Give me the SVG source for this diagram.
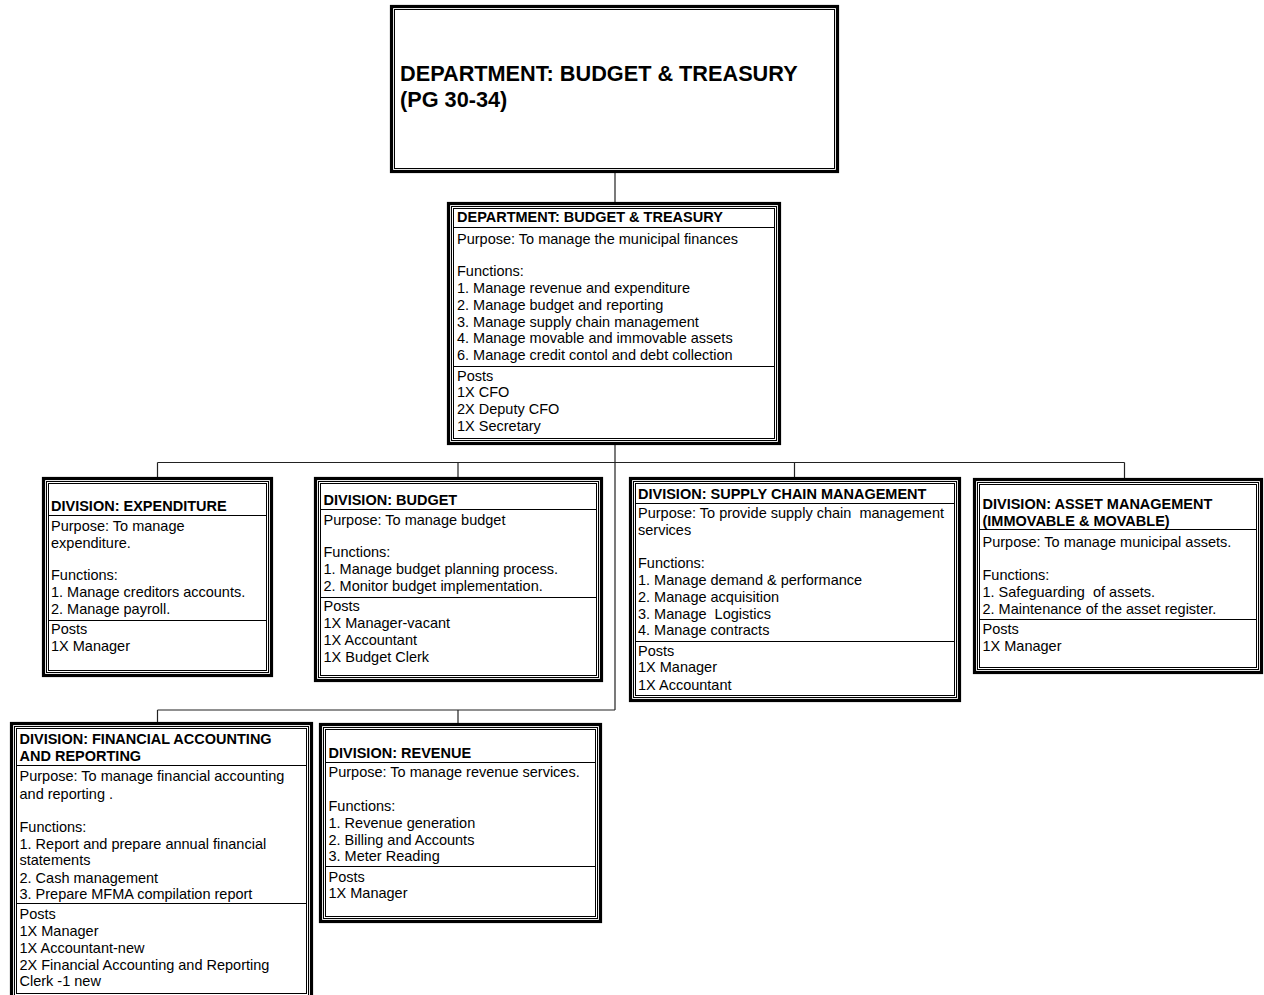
<svg xmlns="http://www.w3.org/2000/svg" width="1264" height="995" viewBox="0 0 1264 995">
<style>
.o{fill:#fff;stroke:#000;stroke-width:3.2}
.i{fill:none;stroke:#000;stroke-width:1}
.s{stroke:#000;stroke-width:1}
.c{fill:none;stroke:#222;stroke-width:1.2}
text{font-family:"Liberation Sans",Arial,Helvetica,sans-serif;font-size:14.5px;fill:#000}
.b{font-weight:bold}
.big{font-size:21.7px;font-weight:bold}
.p{white-space:pre}
</style>
<rect width="1264" height="995" fill="#fff"/>
<g id="connectors">
<path class="c" d="M615 171.5V203.5M615 443.5V710M157.5 462.5H1124.5M157.5 462.5V478.5M458 462.5V478.5M794.5 462.5V478.5M1124.5 462.5V479.5M157.5 710H615M157.5 710V723.5M458 710V724.5"/>
</g>
<g id="top">
<rect class="o" x="391.5" y="6.5" width="446" height="165"/>
<rect class="i" x="394.5" y="9.5" width="440" height="159"/>
<text class="big" x="400" y="81">DEPARTMENT: BUDGET &amp; TREASURY</text>
<text class="big" x="400" y="107">(PG 30-34)</text>
</g>
<g id="dept">
<rect class="o" x="448.5" y="203.5" width="331" height="240"/>
<rect class="i" x="451.5" y="206.5" width="325" height="234"/>
<rect class="i" x="453.5" y="208.5" width="321" height="230"/>
<path class="s" d="M453.5 227.5H774.5M453.5 366.5H774.5"/>
<text class="b" x="457" y="222">DEPARTMENT: BUDGET &amp; TREASURY</text>
<text x="457" y="243.5">Purpose: To manage the municipal finances</text>
<text x="457" y="276">Functions:</text>
<text x="457" y="292.5">1. Manage revenue and expenditure</text>
<text x="457" y="309.5">2. Manage budget and reporting</text>
<text x="457" y="326.5">3. Manage supply chain management</text>
<text x="457" y="343">4. Manage movable and immovable assets</text>
<text x="457" y="360">6. Manage credit contol and debt collection</text>
<text x="457" y="380.5">Posts</text>
<text x="457" y="397">1X CFO</text>
<text x="457" y="414">2X Deputy CFO</text>
<text x="457" y="430.5">1X Secretary</text>
</g>
<g id="expenditure">
<rect class="o" x="43.5" y="478.5" width="228" height="197"/>
<rect class="i" x="46.5" y="481.5" width="222" height="191"/>
<rect class="i" x="48.5" y="483.5" width="218" height="187"/>
<path class="s" d="M48.5 515.5H266.5M48.5 620.5H266.5"/>
<text class="b" x="51" y="511">DIVISION: EXPENDITURE</text>
<text x="51" y="531">Purpose: To manage</text>
<text x="51" y="547.5">expenditure.</text>
<text x="51" y="580">Functions:</text>
<text x="51" y="596.5">1. Manage creditors accounts.</text>
<text x="51" y="613.5">2. Manage payroll.</text>
<text x="51" y="634">Posts</text>
<text x="51" y="650.5">1X Manager</text>
</g>
<g id="budget">
<rect class="o" x="315.5" y="478.5" width="286" height="202"/>
<rect class="i" x="318.5" y="481.5" width="280" height="196"/>
<rect class="i" x="320.5" y="483.5" width="276" height="192"/>
<path class="s" d="M320.5 509.5H596.5M320.5 597.5H596.5"/>
<text class="b" x="323.5" y="504.5">DIVISION: BUDGET</text>
<text x="323.5" y="524.5">Purpose: To manage budget</text>
<text x="323.5" y="557">Functions:</text>
<text x="323.5" y="574">1. Manage budget planning process.</text>
<text x="323.5" y="590.5">2. Monitor budget implementation.</text>
<text x="323.5" y="611">Posts</text>
<text x="323.5" y="628">1X Manager-vacant</text>
<text x="323.5" y="644.5">1X Accountant</text>
<text x="323.5" y="661.5">1X Budget Clerk</text>
</g>
<g id="scm">
<rect class="o" x="630.5" y="478.5" width="329" height="222"/>
<rect class="i" x="633.5" y="481.5" width="323" height="216"/>
<rect class="i" x="635.5" y="483.5" width="319" height="212"/>
<path class="s" d="M635.5 503.5H954.5M635.5 641.5H954.5"/>
<text class="b" x="638" y="498.5">DIVISION: SUPPLY CHAIN MANAGEMENT</text>
<text class="p" x="638" y="518">Purpose: To provide supply chain  management</text>
<text x="638" y="534.5">services</text>
<text x="638" y="568">Functions:</text>
<text x="638" y="585">1. Manage demand &amp; performance</text>
<text x="638" y="601.5">2. Manage acquisition</text>
<text class="p" x="638" y="618.5">3. Manage  Logistics</text>
<text x="638" y="635">4. Manage contracts</text>
<text x="638" y="655.5">Posts</text>
<text x="638" y="672">1X Manager</text>
<text x="638" y="689.5">1X Accountant</text>
</g>
<g id="asset">
<rect class="o" x="974.5" y="479.5" width="287" height="193"/>
<rect class="i" x="977.5" y="482.5" width="281" height="187"/>
<rect class="i" x="979.5" y="484.5" width="277" height="183"/>
<path class="s" d="M979.5 529.5H1256.5M979.5 619.5H1256.5"/>
<text class="b" x="982.5" y="509">DIVISION: ASSET MANAGEMENT</text>
<text class="b" x="982.5" y="525.5">(IMMOVABLE &amp; MOVABLE)</text>
<text x="982.5" y="546.5">Purpose: To manage municipal assets.</text>
<text x="982.5" y="580">Functions:</text>
<text class="p" x="982.5" y="596.5">1. Safeguarding  of assets.</text>
<text x="982.5" y="613.5">2. Maintenance of the asset register.</text>
<text x="982.5" y="634">Posts</text>
<text x="982.5" y="650.5">1X Manager</text>
</g>
<g id="financial">
<rect class="o" x="11.5" y="723.5" width="300" height="275"/>
<rect class="i" x="14.5" y="726.5" width="294" height="269"/>
<rect class="i" x="16.5" y="728.5" width="290" height="265"/>
<path class="s" d="M16.5 765.5H306.5M16.5 903.5H306.5"/>
<text class="b" x="19.5" y="744">DIVISION: FINANCIAL ACCOUNTING</text>
<text class="b" x="19.5" y="761">AND REPORTING</text>
<text x="19.5" y="781">Purpose: To manage financial accounting</text>
<text x="19.5" y="798.5">and reporting .</text>
<text x="19.5" y="832">Functions:</text>
<text x="19.5" y="849">1. Report and prepare annual financial</text>
<text x="19.5" y="865">statements</text>
<text x="19.5" y="882.5">2. Cash management</text>
<text x="19.5" y="899">3. Prepare MFMA compilation report</text>
<text x="19.5" y="918.5">Posts</text>
<text x="19.5" y="935.5">1X Manager</text>
<text x="19.5" y="952.5">1X Accountant-new</text>
<text x="19.5" y="969.5">2X Financial Accounting and Reporting</text>
<text x="19.5" y="986">Clerk -1 new</text>
</g>
<g id="revenue">
<rect class="o" x="320.5" y="724.5" width="280" height="197"/>
<rect class="i" x="323.5" y="727.5" width="274" height="191"/>
<rect class="i" x="325.5" y="729.5" width="270" height="187"/>
<path class="s" d="M325.5 762.5H595.5M325.5 866.5H595.5"/>
<text class="b" x="328.5" y="757.5">DIVISION: REVENUE</text>
<text x="328.5" y="777">Purpose: To manage revenue services.</text>
<text x="328.5" y="810.5">Functions:</text>
<text x="328.5" y="827.5">1. Revenue generation</text>
<text x="328.5" y="844.5">2. Billing and Accounts</text>
<text x="328.5" y="861">3. Meter Reading</text>
<text x="328.5" y="881.5">Posts</text>
<text x="328.5" y="898">1X Manager</text>
</g>
</svg>
